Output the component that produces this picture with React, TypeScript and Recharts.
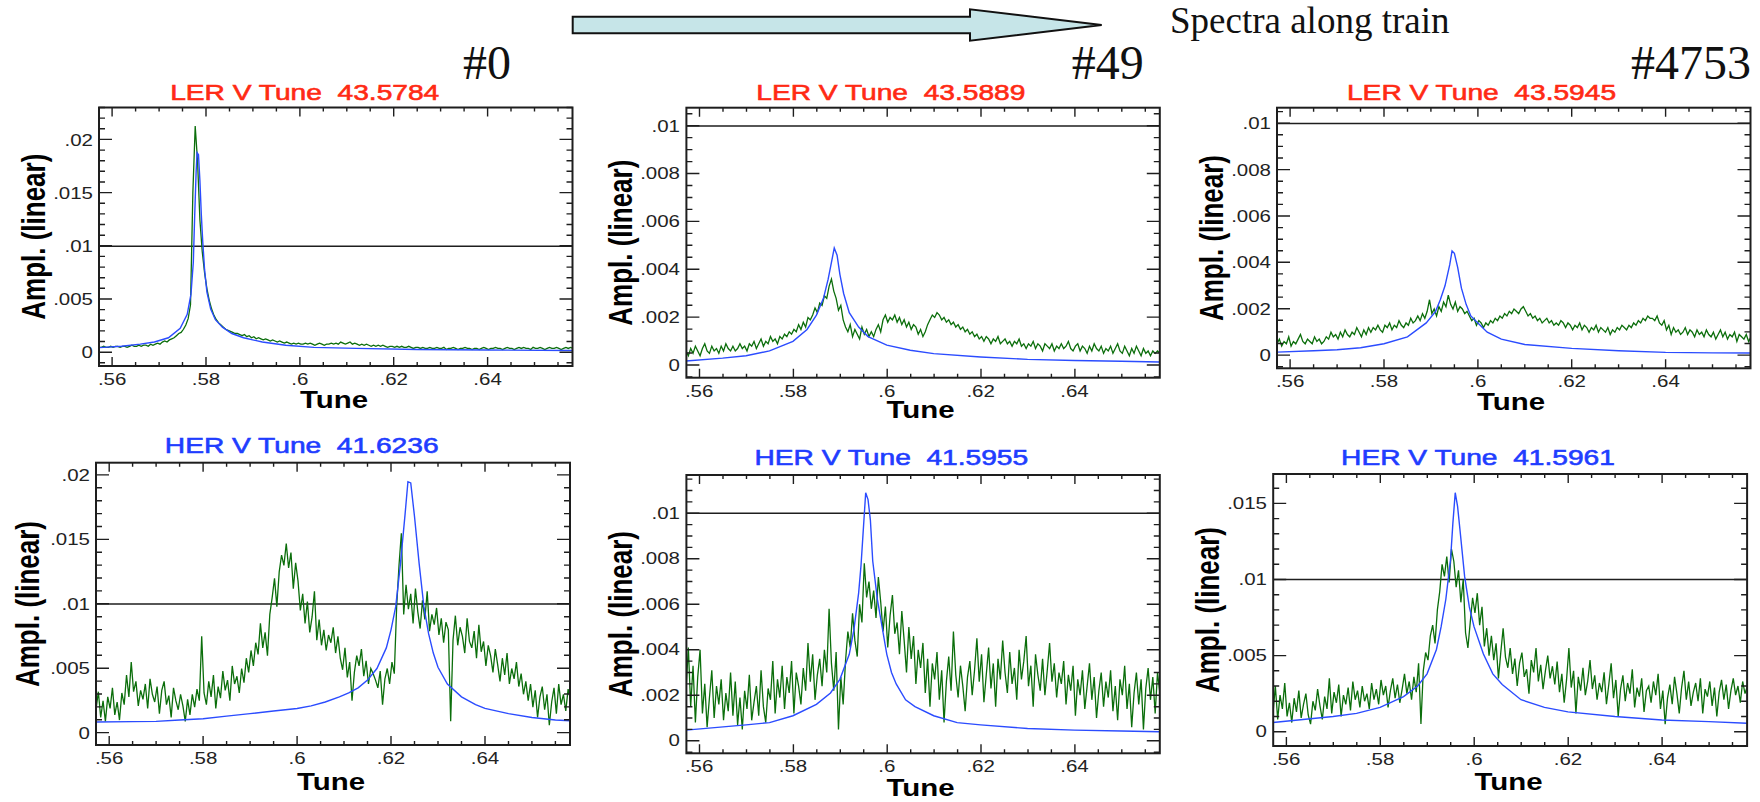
import React from 'react';
import { LineChart, Line, XAxis, YAxis, ReferenceLine } from 'recharts';

// tune axis shared by all six spectra
const TUNE_DOMAIN: [number, number] = [0.5572, 0.6581];
const TUNE_TICKS = [0.56, 0.58, 0.6, 0.62, 0.64];
const TUNE_MINOR = 0.005;

const AMP_TICKS_005 = [0, 0.005, 0.01, 0.015, 0.02];
const AMP_TICKS_002 = [0, 0.002, 0.004, 0.006, 0.008, 0.01];
const AMP_TICKS_HER2 = [0, 0.005, 0.01, 0.015];

// measured spectra: one bin every 0.0005 in tune, 20 bins (0.01) per row
const BIN_START = 0.5572;
const BIN_STEP = 0.0005;

const lerSpec0 = [
  .0005, .0005, .0006, .0005, .0005, .0006, .0005, .0006, .0006, .0005, .0006, .0006, .0005, .0006, .0007, .0006, .0006, .0007, .0006, .0007,
  .0007, .0006, .0008, .0007, .0008, .0009, .0008, .0010, .0011, .0010, .0012, .0013, .0014, .0016, .0018, .0019, .0022, .0026, .0032, .0045,
  .0150, .0213, .0180, .0125, .0095, .0075, .0060, .0049, .0041, .0035, .0031, .0028, .0026, .0024, .0022, .0021, .0020, .0019, .0018, .0018,
  .0017, .0016, .0017, .0015, .0016, .0014, .0015, .0013, .0014, .0013, .0012, .0013, .0012, .0011, .0012, .0011, .0010, .0011, .0010, .0009,
  .0010, .0009, .0008, .0009, .0008, .0009, .0008, .0008, .0009, .0008, .0009, .0008, .0007, .0008, .0009, .0008, .0007, .0008, .0008, .0009,
  .0008, .0009, .0008, .0010, .0009, .0008, .0009, .0010, .0008, .0009, .0008, .0007, .0008, .0007, .0008, .0007, .0006, .0007, .0006, .0007,
  .0006, .0007, .0006, .0005, .0006, .0006, .0005, .0006, .0005, .0006, .0005, .0005, .0006, .0005, .0004, .0005, .0005, .0004, .0005, .0004,
  .0004, .0005, .0004, .0004, .0005, .0004, .0004, .0005, .0003, .0004, .0004, .0005, .0004, .0003, .0004, .0004, .0005, .0004, .0004, .0003,
  .0004, .0004, .0003, .0004, .0005, .0004, .0003, .0004, .0004, .0005, .0004, .0004, .0003, .0004, .0005, .0004, .0004, .0003, .0004, .0005,
  .0004, .0005, .0004, .0004, .0003, .0005, .0004, .0004, .0005, .0004, .0003, .0004, .0005, .0004, .0004, .0005, .0004, .0003, .0004, .0005,
  .0004, .0005, .0004,
];

const lerSpec49 = [
  .0006, .0004, .0007, .0005, .0008, .0006, .0004, .0007, .0009, .0006, .0005, .0008, .0006, .0007, .0005, .0008, .0006, .0009, .0007, .0006,
  .0008, .0006, .0007, .0009, .0007, .0008, .0006, .0009, .0008, .0010, .0007, .0009, .0011, .0008, .0010, .0009, .0012, .0010, .0011, .0009,
  .0012, .0011, .0013, .0012, .0014, .0013, .0015, .0014, .0017, .0015, .0018, .0016, .0020, .0019, .0021, .0024, .0022, .0026, .0025, .0029,
  .0028, .0033, .0036, .0031, .0028, .0023, .0025, .0019, .0016, .0014, .0017, .0012, .0015, .0013, .0011, .0016, .0013, .0015, .0012, .0014,
  .0012, .0015, .0017, .0014, .0019, .0021, .0018, .0020, .0019, .0021, .0018, .0020, .0017, .0019, .0016, .0018, .0015, .0017, .0016, .0013,
  .0015, .0012, .0014, .0017, .0019, .0021, .0020, .0022, .0021, .0019, .0020, .0018, .0019, .0017, .0018, .0016, .0017, .0015, .0016, .0014,
  .0015, .0013, .0014, .0012, .0013, .0011, .0012, .0010, .0012, .0011, .0009, .0011, .0010, .0012, .0009, .0010, .0011, .0009, .0010, .0008,
  .0010, .0009, .0011, .0008, .0009, .0007, .0009, .0008, .0010, .0007, .0009, .0008, .0006, .0009, .0008, .0007, .0009, .0006, .0008, .0007,
  .0009, .0007, .0008, .0010, .0007, .0006, .0008, .0009, .0006, .0008, .0007, .0005, .0008, .0006, .0009, .0007, .0006, .0008, .0005, .0007,
  .0006, .0008, .0005, .0007, .0009, .0006, .0005, .0008, .0006, .0004, .0007, .0005, .0008, .0006, .0004, .0007, .0005, .0006, .0004, .0006,
  .0005, .0006, .0005,
];

const lerSpec4753 = [
  .0005, .0007, .0004, .0006, .0005, .0008, .0004, .0006, .0005, .0007, .0009, .0006, .0005, .0007, .0006, .0005, .0008, .0006, .0007, .0005,
  .0006, .0008, .0007, .0010, .0008, .0009, .0007, .0010, .0008, .0011, .0009, .0008, .0010, .0009, .0012, .0010, .0008, .0011, .0009, .0012,
  .0010, .0012, .0011, .0013, .0011, .0010, .0013, .0012, .0014, .0011, .0013, .0012, .0015, .0013, .0012, .0014, .0013, .0016, .0014, .0015,
  .0017, .0015, .0018, .0016, .0019, .0024, .0018, .0020, .0017, .0021, .0019, .0023, .0021, .0026, .0022, .0020, .0023, .0019, .0021, .0020,
  .0018, .0019, .0017, .0015, .0016, .0013, .0015, .0014, .0012, .0014, .0013, .0015, .0014, .0016, .0015, .0017, .0016, .0018, .0017, .0019,
  .0018, .0020, .0019, .0018, .0020, .0021, .0019, .0017, .0018, .0016, .0017, .0015, .0016, .0014, .0015, .0016, .0014, .0015, .0013, .0014,
  .0013, .0015, .0014, .0012, .0014, .0013, .0011, .0013, .0012, .0014, .0011, .0013, .0012, .0010, .0012, .0011, .0013, .0010, .0012, .0011,
  .0010, .0012, .0009, .0011, .0010, .0012, .0011, .0013, .0012, .0011, .0013, .0012, .0014, .0013, .0015, .0014, .0016, .0015, .0017, .0016,
  .0016, .0015, .0017, .0014, .0013, .0015, .0011, .0013, .0009, .0012, .0010, .0011, .0009, .0010, .0012, .0009, .0011, .0010, .0008, .0011,
  .0009, .0010, .0008, .0011, .0009, .0008, .0010, .0007, .0009, .0011, .0008, .0010, .0007, .0009, .0008, .0010, .0006, .0009, .0008, .0007,
  .0009, .0006, .0008,
];

const herSpec0 = [
  .0018, .0032, .0012, .0025, .0009, .0028, .0019, .0035, .0014, .0024, .0010, .0031, .0022, .0045, .0028, .0055, .0032, .0040, .0021, .0033,
  .0026, .0038, .0019, .0042, .0030, .0024, .0036, .0015, .0033, .0040, .0022, .0029, .0012, .0035, .0025, .0018, .0030, .0021, .0009, .0026,
  .0014, .0030, .0020, .0034, .0025, .0075, .0031, .0022, .0040, .0028, .0045, .0019, .0036, .0027, .0048, .0033, .0041, .0025, .0052, .0038,
  .0044, .0031, .0050, .0039, .0058, .0047, .0064, .0052, .0070, .0061, .0085, .0066, .0078, .0060, .0092, .0105, .0120, .0098, .0125, .0138,
  .0130, .0147, .0128, .0140, .0112, .0132, .0118, .0095, .0108, .0085, .0102, .0078, .0090, .0110, .0072, .0088, .0068, .0080, .0064, .0076,
  .0070, .0082, .0062, .0075, .0058, .0049, .0066, .0043, .0055, .0025, .0047, .0060, .0052, .0065, .0044, .0056, .0038, .0050, .0046, .0041,
  .0035, .0048, .0022, .0042, .0050, .0038, .0055, .0046, .0098, .0130, .0155, .0092, .0115, .0096, .0108, .0085, .0112, .0094, .0081, .0103,
  .0088, .0110, .0079, .0092, .0084, .0097, .0076, .0089, .0070, .0086, .0080, .0009, .0072, .0091, .0068, .0082, .0075, .0062, .0089, .0071,
  .0066, .0079, .0058, .0084, .0063, .0071, .0052, .0068, .0060, .0047, .0065, .0053, .0040, .0058, .0045, .0062, .0038, .0050, .0042, .0055,
  .0036, .0046, .0030, .0040, .0025, .0038, .0020, .0033, .0012, .0028, .0036, .0018, .0030, .0006, .0024, .0035, .0015, .0038, .0022, .0030,
  .0017, .0034, .0026,
];

const herSpec49 = [
  .0022, .0041, .0015, .0033, .0008, .0028, .0040, .0012, .0025, .0006, .0019, .0031, .0010, .0024, .0016, .0027, .0009, .0021, .0013, .0030,
  .0011, .0026, .0007, .0019, .0005, .0022, .0014, .0029, .0009, .0017, .0024, .0011, .0031, .0015, .0008, .0023, .0018, .0035, .0012, .0027,
  .0019, .0033, .0014, .0028, .0021, .0035, .0012, .0030, .0024, .0016, .0032, .0022, .0043, .0026, .0038, .0018, .0029, .0036, .0024, .0040,
  .0030, .0058, .0034, .0022, .0039, .0005, .0028, .0016, .0035, .0048, .0041, .0056, .0044, .0037, .0060, .0052, .0078, .0063, .0070, .0058,
  .0066, .0054, .0072, .0061, .0048, .0059, .0041, .0055, .0064, .0047, .0052, .0038, .0057, .0044, .0030, .0050, .0036, .0046, .0025, .0040,
  .0032, .0043, .0021, .0036, .0015, .0034, .0027, .0039, .0018, .0031, .0008, .0026, .0037, .0022, .0048, .0029, .0019, .0033, .0024, .0013,
  .0028, .0035, .0020, .0031, .0045, .0026, .0038, .0017, .0029, .0041, .0023, .0034, .0015, .0036, .0027, .0044, .0030, .0021, .0039, .0025,
  .0032, .0018, .0040, .0027, .0035, .0046, .0024, .0033, .0015, .0038, .0029, .0022, .0036, .0020, .0031, .0043, .0026, .0034, .0019, .0030,
  .0025, .0035, .0016, .0029, .0022, .0033, .0011, .0027, .0020, .0031, .0014, .0024, .0034, .0018, .0028, .0010, .0022, .0030, .0015, .0026,
  .0019, .0031, .0013, .0024, .0009, .0027, .0020, .0033, .0014, .0025, .0006, .0021, .0030, .0016, .0027, .0005, .0023, .0032, .0018, .0028,
  .0012, .0030, .0021,
];

const herSpec4753 = [
  .0012, .0030, .0008, .0024, .0015, .0032, .0010, .0019, .0006, .0022, .0013, .0027, .0009, .0018, .0025, .0011, .0005, .0020, .0014, .0028,
  .0017, .0008, .0023, .0015, .0035, .0012, .0026, .0019, .0031, .0010, .0024, .0018, .0029, .0014, .0033, .0021, .0027, .0016, .0030, .0020,
  .0025, .0015, .0032, .0021, .0028, .0018, .0034, .0024, .0030, .0016, .0027, .0035, .0022, .0031, .0019, .0028, .0038, .0025, .0033, .0021,
  .0036, .0026, .0045, .0005, .0040, .0052, .0047, .0063, .0070, .0058, .0080, .0092, .0110, .0102, .0115, .0098, .0120, .0112, .0095, .0106,
  .0085, .0100, .0065, .0055, .0072, .0088, .0078, .0091, .0070, .0082, .0056, .0068, .0050, .0063, .0047, .0058, .0035, .0052, .0068, .0049,
  .0042, .0055, .0038, .0048, .0030, .0045, .0052, .0036, .0041, .0025, .0047, .0039, .0055, .0033, .0044, .0028, .0040, .0050, .0035, .0043,
  .0031, .0046, .0026, .0038, .0019, .0034, .0055, .0029, .0040, .0012, .0036, .0027, .0042, .0024, .0033, .0047, .0028, .0037, .0021, .0032,
  .0026, .0039, .0018, .0031, .0045, .0022, .0034, .0010, .0028, .0037, .0020, .0032, .0025, .0041, .0016, .0029, .0023, .0035, .0013, .0027,
  .0030, .0019, .0033, .0024, .0038, .0015, .0027, .0005, .0022, .0031, .0018, .0036, .0025, .0012, .0029, .0040, .0021, .0033, .0017, .0026,
  .0032, .0020, .0035, .0012, .0028, .0023, .0033, .0017, .0029, .0010, .0026, .0034, .0021, .0031, .0015, .0027, .0035, .0024, .0030, .0019,
  .0033, .0025, .0030,
];

// resonance fits (blue), tune / amplitude pairs
const lerFitTune0 = [.5572, .562, .566, .569, .572, .5745, .576, .5768, .5773, .5776, .5779, .5781, .5784, .5787, .579, .5793, .5797, .5802, .581, .582, .5835, .5855, .588, .592, .597, .603, .612, .625, .64, .6581];
const lerFitAmp0 = [.00047, .0006, .0008, .001, .0014, .0023, .0036, .0055, .0085, .013, .017, .0188, .0186, .0162, .013, .0105, .0078, .0057, .0041, .0031, .0024, .0018, .0014, .001, .0007, .0005, .0004, .0003, .00025, .0002];

const lerFitTune49 = [.5572, .565, .57, .575, .58, .583, .585, .5865, .5875, .5882, .5888, .5894, .59, .5908, .592, .594, .596, .6, .605, .61, .62, .63, .64, .65, .6581];
const lerFitAmp49 = [.00018, .0003, .0004, .0006, .001, .0015, .0021, .0028, .0036, .0043, .0049, .0046, .0038, .003, .0022, .0016, .0012, .00084, .00063, .00049, .00035, .00025, .0002, .00017, .00014];

const lerFitTune4753 = [.5572, .565, .57, .575, .58, .585, .589, .591, .592, .593, .594, .5945, .595, .5957, .5965, .5975, .5985, .6, .602, .605, .61, .62, .63, .64, .65, .6581];
const lerFitAmp4753 = [.00014, .0002, .00024, .00033, .0005, .0008, .0014, .0019, .0024, .003, .0039, .0045, .0044, .0038, .0029, .0022, .0017, .0014, .001, .0007, .00047, .0003, .0002, .00013, .00011, .0001];

const herFitTune0 = [.5572, .565, .57, .575, .58, .585, .59, .595, .6, .603, .606, .609, .611, .613, .615, .617, .619, .62, .621, .622, .623, .6236, .6242, .625, .626, .627, .628, .629, .63, .632, .635, .638, .64, .645, .65, .655, .6581];
const herFitAmp0 = [.00085, .00088, .0009, .001, .0011, .0013, .0015, .0017, .0019, .0021, .0024, .0028, .0031, .0035, .0041, .005, .0066, .008, .0098, .0131, .017, .0195, .0194, .0168, .0131, .0098, .0077, .0062, .0051, .0038, .0028, .0022, .0019, .0015, .0012, .001, .00095];

const herFitTune49 = [.5572, .57, .575, .58, .585, .588, .59, .592, .593, .594, .5945, .595, .5955, .596, .5965, .597, .598, .599, .6, .601, .602, .604, .606, .61, .615, .62, .63, .64, .65, .6581];
const herFitAmp49 = [.00047, .0007, .0008, .0011, .0016, .0021, .0027, .0038, .0049, .0065, .0077, .0093, .0109, .0106, .0097, .0079, .0062, .005, .0038, .003, .0025, .0018, .0015, .0011, .0008, .0007, .00054, .00047, .00043, .0004];

const herFitTune4753 = [.5572, .57, .575, .58, .585, .588, .59, .592, .593, .594, .595, .5955, .596, .5965, .597, .598, .599, .6, .602, .604, .606, .61, .615, .62, .63, .64, .65, .6581];
const herFitAmp4753 = [.0006, .001, .0012, .0016, .0023, .003, .0038, .0054, .0069, .0087, .0113, .0137, .0157, .0148, .0133, .0102, .0082, .0069, .0051, .0038, .0031, .0021, .0016, .0013, .001, .00077, .00066, .00055];

const INK = '#1e1e1e';
const GREEN = '#0b6e0b';
const BLUE = '#2b4cff';
const LER_RED = '#ff2a14';
const HER_BLUE = '#1f3dff';
const SANS = '"Liberation Sans", Arial, Helvetica, sans-serif';
const SERIF = '"Liberation Serif", "Times New Roman", serif';
const STRETCH = 1.28; // the original screenshots are stretched sideways

const PAD_L = 80;
const PAD_R = 8;
const PAD_T = 12;
const PAD_B = 44;
// tick lengths: tune ticks (top/bottom) and amplitude ticks (left/right)
const TUNE_MAJOR_LEN = 9;
const TUNE_MINOR_LEN = 4;
const AMP_MAJOR_LEN = 13;
const AMP_MINOR_LEN = 6;

type Panel = {
  title: string;
  titleColor: string;
  bunch?: string;
  bunchAt?: [number, number];
  box: [number, number, number, number];
  yDomain: [number, number];
  yTicks: number[];
  yMinor: number;
  spectrum: number[];
  fitTune: number[];
  fitAmp: number[];
  titleAt: [number, number];
  tuneAt: [number, number];
  ampAt: [number, number];
};

const panels: Panel[] = [
  { title: 'LER V Tune  43.5784', titleColor: LER_RED, bunch: '#0', bunchAt: [463, 79], box: [99, 107.5, 572.5, 366], yDomain: [-0.0013, 0.023], yTicks: AMP_TICKS_005, yMinor: 0.001, spectrum: lerSpec0, fitTune: lerFitTune0, fitAmp: lerFitAmp0, titleAt: [304.7, 91.7], tuneAt: [334, 400], ampAt: [33, 236.7] },
  { title: 'LER V Tune  43.5889', titleColor: LER_RED, bunch: '#49', bunchAt: [1071.8, 79], box: [686.4, 107.7, 1159.8, 377.7], yDomain: [-0.00053, 0.01075], yTicks: AMP_TICKS_002, yMinor: 0.0005, spectrum: lerSpec49, fitTune: lerFitTune49, fitAmp: lerFitAmp49, titleAt: [890.8, 91.7], tuneAt: [920.6, 410], ampAt: [620, 242.7] },
  { title: 'LER V Tune  43.5945', titleColor: LER_RED, bunch: '#4753', bunchAt: [1631, 79], box: [1277, 107.7, 1750.5, 368.3], yDomain: [-0.00057, 0.01067], yTicks: AMP_TICKS_002, yMinor: 0.0005, spectrum: lerSpec4753, fitTune: lerFitTune4753, fitAmp: lerFitAmp4753, titleAt: [1481.5, 91.7], tuneAt: [1511, 401.7], ampAt: [1211.4, 238] },
  { title: 'HER V Tune  41.6236', titleColor: HER_BLUE, box: [96, 462.7, 570, 745], yDomain: [-0.00096, 0.02095], yTicks: AMP_TICKS_005, yMinor: 0.001, spectrum: herSpec0, fitTune: herFitTune0, fitAmp: herFitAmp0, titleAt: [301.7, 445], tuneAt: [331, 781.7], ampAt: [27, 604] },
  { title: 'HER V Tune  41.5955', titleColor: HER_BLUE, box: [686.4, 475, 1159.8, 753.3], yDomain: [-0.00055, 0.01168], yTicks: AMP_TICKS_002, yMinor: 0.0005, spectrum: herSpec49, fitTune: herFitTune49, fitAmp: herFitAmp49, titleAt: [891.3, 456.7], tuneAt: [920.6, 788.3], ampAt: [620, 614] },
  { title: 'HER V Tune  41.5961', titleColor: HER_BLUE, box: [1273.2, 474, 1747.1, 746], yDomain: [-0.00094, 0.01693], yTicks: AMP_TICKS_HER2, yMinor: 0.001, spectrum: herSpec4753, fitTune: herFitTune4753, fitAmp: herFitAmp4753, titleAt: [1478, 457.3], tuneAt: [1508.5, 781.7], ampAt: [1207.7, 610] },
];

const isMajor = (v: number, majors: number[]) => majors.some((m) => Math.abs(m - v) < 1e-9);

const fmtTick = (v: number) => (Math.abs(v) < 1e-12 ? '0' : String(+v.toFixed(4)).replace(/^0\./, '.'));

// every minor step inside the domain, majors included
const withMinor = (domain: [number, number], step: number, majors: number[]) => {
  const out = [...majors];
  for (let k = Math.ceil(domain[0] / step - 1e-6); k * step <= domain[1] + 1e-12; k++) {
    const v = +(k * step).toFixed(6);
    if (!isMajor(v, majors)) out.push(v);
  }
  return out.sort((a, b) => a - b);
};

function Spectrum({ p }: { p: Panel }) {
  const [x0, y0, x1, y1] = p.box;
  const plotW = x1 - x0;
  const plotH = y1 - y0;
  const bottom = PAD_T + plotH;
  const left = PAD_L;

  const measured = p.spectrum.map((amp, i) => ({ tune: BIN_START + i * BIN_STEP, amp }));
  const fit = p.fitTune.map((tune, i) => ({ tune, amp: p.fitAmp[i] }));

  const renderXTick = (t: any) =>
    isMajor(t.payload.value, TUNE_TICKS) ? (
      <text
        transform={`translate(${t.x},${bottom + 13}) scale(${STRETCH},1)`}
        textAnchor="middle"
        dominantBaseline="central"
        fontFamily={SANS}
        fontSize={16}
        fill="#222"
      >
        {fmtTick(t.payload.value)}
      </text>
    ) : (
      <g />
    );

  const renderYTick = (t: any) =>
    isMajor(t.payload.value, p.yTicks) ? (
      <text
        transform={`translate(${left - 6},${t.y}) scale(${STRETCH},1)`}
        textAnchor="end"
        dominantBaseline="central"
        fontFamily={SANS}
        fontSize={16}
        fill="#222"
      >
        {fmtTick(t.payload.value)}
      </text>
    ) : (
      <g />
    );

  return (
    <div style={{ position: 'absolute', left: x0 - PAD_L, top: y0 - PAD_T }}>
      <LineChart
        width={plotW + PAD_L + PAD_R}
        height={plotH + PAD_T + PAD_B}
        margin={{ top: PAD_T, right: PAD_R, bottom: 0, left: 0 }}
      >
        <XAxis
          type="number"
          dataKey="tune"
          domain={TUNE_DOMAIN}
          allowDataOverflow
          ticks={TUNE_TICKS}
          interval={0}
          height={PAD_B}
          axisLine={false}
          tickLine={false}
          tickSize={0}
          tickMargin={0}
          tick={renderXTick}
        />
        <YAxis
          type="number"
          domain={p.yDomain}
          allowDataOverflow
          ticks={p.yTicks}
          interval={0}
          width={PAD_L}
          axisLine={false}
          tickLine={false}
          tickSize={0}
          tickMargin={0}
          tick={renderYTick}
        />
        <ReferenceLine y={0.01} stroke={INK} strokeWidth={1.5} />
        <Line
          data={measured}
          dataKey="amp"
          type="linear"
          stroke={GREEN}
          strokeWidth={1.3}
          dot={false}
          isAnimationActive={false}
        />
        <Line
          data={fit}
          dataKey="amp"
          type="linear"
          stroke={BLUE}
          strokeWidth={1.4}
          dot={false}
          isAnimationActive={false}
        />
      </LineChart>
    </div>
  );
}

// frame with inward tick marks on all four sides, on the same domain as the chart
function Frame({ p }: { p: Panel }) {
  const [x0, y0, x1, y1] = p.box;
  const [tLo, tHi] = TUNE_DOMAIN;
  const [aLo, aHi] = p.yDomain;
  const px = (v: number) => x0 + ((v - tLo) / (tHi - tLo)) * (x1 - x0);
  const py = (v: number) => y1 - ((v - aLo) / (aHi - aLo)) * (y1 - y0);
  let d = '';
  withMinor(TUNE_DOMAIN, TUNE_MINOR, TUNE_TICKS).forEach((v) => {
    const l = isMajor(v, TUNE_TICKS) ? TUNE_MAJOR_LEN : TUNE_MINOR_LEN;
    const x = px(v).toFixed(1);
    d += `M${x},${y1}v${-l}M${x},${y0}v${l}`;
  });
  withMinor(p.yDomain, p.yMinor, p.yTicks).forEach((v) => {
    const l = isMajor(v, p.yTicks) ? AMP_MAJOR_LEN : AMP_MINOR_LEN;
    const y = py(v).toFixed(1);
    d += `M${x0},${y}h${l}M${x1},${y}h${-l}`;
  });
  return (
    <g>
      <path d={d} fill="none" stroke={INK} strokeWidth={1.4} />
      <rect x={x0} y={y0} width={x1 - x0} height={y1 - y0} fill="none" stroke={INK} strokeWidth={2} />
    </g>
  );
}

export default function App() {
  return (
    <div
      style={{
        position: 'absolute',
        left: 0,
        top: 0,
        width: 1760,
        height: 802,
        overflow: 'hidden',
        background: '#fff',
      }}
    >
      {panels.map((p) => (
        <Spectrum key={p.title} p={p} />
      ))}
      <svg width={1760} height={802} style={{ position: 'absolute', left: 0, top: 0, pointerEvents: 'none' }}>
        <polygon
          points="572.7,16.7 970,16.7 970,9.3 1101.7,25 970,40.7 970,33.3 572.7,33.3"
          fill="#c6e5e8"
          stroke="#111"
          strokeWidth={2}
        />
        <text x={1170} y={33.3} fontFamily={SERIF} fontSize={37} fill="#111">
          Spectra along train
        </text>
        {panels.map((p) => (
          <g key={p.title}>
            <Frame p={p} />
            <text
              transform={`translate(${p.titleAt[0]},${p.titleAt[1]}) scale(${STRETCH},1)`}
              textAnchor="middle"
              dominantBaseline="central"
              fontFamily={SANS}
              fontSize={22}
              fill={p.titleColor}
              stroke={p.titleColor}
              strokeWidth={0.6}
              style={{ whiteSpace: 'pre' }}
            >
              {p.title}
            </text>
            {p.bunch && p.bunchAt && (
              <text x={p.bunchAt[0]} y={p.bunchAt[1]} fontFamily={SERIF} fontSize={48} fill="#111">
                {p.bunch}
              </text>
            )}
            <text
              transform={`translate(${p.tuneAt[0]},${p.tuneAt[1]}) scale(${STRETCH},1)`}
              textAnchor="middle"
              dominantBaseline="central"
              fontFamily={SANS}
              fontWeight="bold"
              fontSize={23}
              fill="#000"
            >
              Tune
            </text>
            <text
              transform={`translate(${p.ampAt[0]},${p.ampAt[1]}) scale(1.3,1) rotate(-90)`}
              textAnchor="middle"
              dominantBaseline="central"
              fontFamily={SANS}
              fontWeight="bold"
              fontSize={26}
              fill="#000"
            >
              Ampl. (linear)
            </text>
          </g>
        ))}
      </svg>
    </div>
  );
}
